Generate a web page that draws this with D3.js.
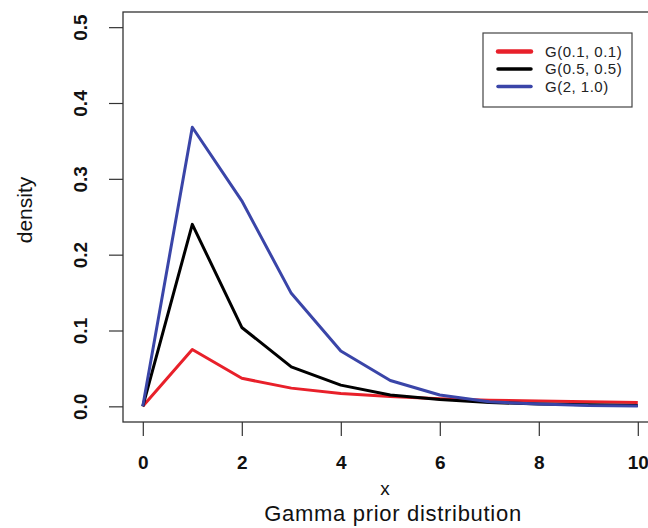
<!DOCTYPE html>
<html>
<head>
<meta charset="utf-8">
<script src="https://cdn.jsdelivr.net/npm/d3@7"></script>
<style>
  html, body { margin: 0; padding: 0; background: #fff; }
  svg { display: block; font-family: "Liberation Sans", Arial, sans-serif; }
</style>
</head>
<body>
<svg id="chart" width="648" height="528"></svg>
<script>
// Gamma prior densities evaluated at integer x
const xs = [0, 1, 2, 3, 4, 5, 6, 7, 8, 9, 10];
const g01 = [0, 0.075, 0.037, 0.024, 0.017, 0.013, 0.010, 0.008, 0.007, 0.006, 0.005];
const g05 = [0, 0.240, 0.104, 0.052, 0.028, 0.015, 0.009, 0.005, 0.003, 0.002, 0.001];
const g21 = [0, 0.368, 0.271, 0.149, 0.073, 0.034, 0.015, 0.006, 0.003, 0.001, 0.0005];

const seriesNames = ["G(0.1, 0.1)", "G(0.5, 0.5)", "G(2, 1.0)"];
const seriesColors = ["#e8202a", "#000000", "#3a45a8"];
const seriesValues = [g01, g05, g21];

const xTicks = [0, 2, 4, 6, 8, 10];
const yTicks = [0.0, 0.1, 0.2, 0.3, 0.4, 0.5];

const svg = d3.select("#chart");

// plot region (x limits padded 4% like an R plot; right side runs off the page)
const x = d3.scaleLinear().domain([-0.4, 10.4]).range([123, 657.6]);
const y = d3.scaleLinear().domain([-0.02, 0.52]).range([421.5, 12]);

// axes
const xAxis = d3.axisBottom(x).tickValues(xTicks).tickSize(14).tickPadding(20)
  .tickFormat(d3.format("d"));
const gx = svg.append("g").attr("transform", "translate(0,422)").call(xAxis);
gx.select(".domain").remove();
gx.selectAll("line").attr("stroke", "#333").attr("stroke-width", 1.2);
gx.selectAll("text").attr("font-size", 19).attr("font-weight", "bold").attr("fill", "#111");

const yAxis = d3.axisLeft(y).tickValues(yTicks).tickSize(14).tickPadding(0)
  .tickFormat(d3.format(".1f"));
const gy = svg.append("g").attr("transform", "translate(123,0)").call(yAxis);
gy.select(".domain").remove();
gy.selectAll("line").attr("stroke", "#333").attr("stroke-width", 1.2);
gy.selectAll("text")
  .attr("x", null)
  .attr("text-anchor", "middle")
  .attr("transform", "translate(-43,0) rotate(-90)")
  .attr("dy", "0.35em")
  .attr("font-size", 19).attr("font-weight", "bold").attr("fill", "#111");

// plot box
svg.append("rect")
  .attr("x", 123).attr("y", 12)
  .attr("width", 657.6 - 123).attr("height", 422 - 12)
  .attr("fill", "none").attr("stroke", "#333").attr("stroke-width", 1.3);

// density lines
const line = d3.line().x((d, i) => x(xs[i])).y(d => y(d));
seriesValues.forEach((vals, k) => {
  svg.append("path")
    .datum(vals)
    .attr("d", line)
    .attr("fill", "none")
    .attr("stroke", seriesColors[k])
    .attr("stroke-width", 3)
    .attr("stroke-linejoin", "round");
});

// axis titles
svg.append("text").attr("x", 385).attr("y", 495).attr("text-anchor", "middle")
  .attr("font-size", 19).attr("fill", "#111").text("x");
svg.append("text").attr("x", 393).attr("y", 521).attr("text-anchor", "middle")
  .attr("font-size", 22).attr("letter-spacing", 0.7).attr("fill", "#111")
  .text("Gamma prior distribution");
svg.append("text").attr("transform", "translate(32,210) rotate(-90)")
  .attr("text-anchor", "middle").attr("font-size", 21).attr("fill", "#111").text("density");

// legend
const lg = svg.append("g");
lg.append("rect").attr("x", 483).attr("y", 33).attr("width", 149).attr("height", 74)
  .attr("fill", "#fff").attr("stroke", "#444").attr("stroke-width", 1.2);
seriesNames.forEach((name, k) => {
  const yy = 51.5 + k * 17.5;
  lg.append("line").attr("x1", 498).attr("x2", 531).attr("y1", yy).attr("y2", yy)
    .attr("stroke", seriesColors[k]).attr("stroke-width", k === 0 ? 4.5 : 3.5)
    .attr("stroke-linecap", "round");
  lg.append("text").attr("x", 545).attr("y", yy).attr("dy", "0.35em")
    .attr("font-size", 15).attr("letter-spacing", 0.5).attr("fill", "#222").text(name);
});
</script>
</body>
</html>
